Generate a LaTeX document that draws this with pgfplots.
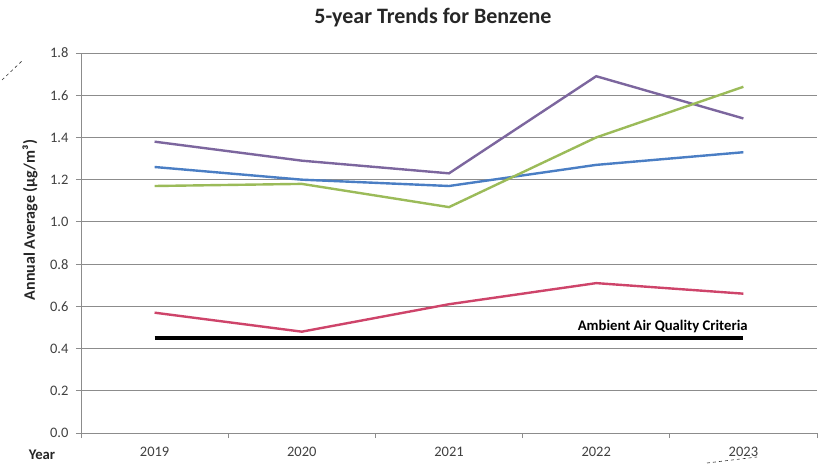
\documentclass[border=0pt]{standalone}
\usepackage{fontspec}
\setmainfont{Carlito}
\usepackage{pgfplots}
\pgfplotsset{compat=1.18}
\definecolor{cpurple}{RGB}{124,102,158}
\definecolor{cblue}{RGB}{74,126,196}
\definecolor{cgreen}{RGB}{155,187,89}
\definecolor{cred}{RGB}{206,68,106}
\definecolor{gridgray}{RGB}{140,140,140}
\definecolor{txtgray}{RGB}{64,64,64}
\begin{document}
\begin{tikzpicture}[x=1pt,y=1pt]
\begin{axis}[
  at={(0,0)}, anchor=south west,
  scale only axis, width=736pt, height=380pt,
  xmin=-0.5, xmax=4.5, ymin=0, ymax=1.8,
  axis x line*=bottom, axis y line*=left,
  axis line style={draw=gridgray, line width=0.9pt},
  xtick={0,1,2,3,4},
  xticklabels={2019,2020,2021,2022,2023},
  major x tick style={draw=none},
  minor xtick={-0.5,0.5,1.5,2.5,3.5,4.5},
  ytick={0,0.2,0.4,0.6,0.8,1.0,1.2,1.4,1.6,1.8},
  yticklabel style={/pgf/number format/fixed,/pgf/number format/fixed zerofill,/pgf/number format/precision=1},
  /pgf/number format/assume math mode=true,
  ymajorgrids,
  grid style={draw=gridgray, line width=0.9pt},
  tick align=outside,
  major tick length=5pt, minor tick length=5pt,
  tick style={draw=gridgray, line width=0.9pt},
  ticklabel style={font=\fontsize{14.5}{16}\selectfont, text=txtgray},
  xticklabel style={yshift=-6pt},
  yticklabel style={xshift=-4pt},
  clip=false,
]
\addplot[cpurple, line width=2.4pt] coordinates {(0,1.38) (1,1.29) (2,1.23) (3,1.69) (4,1.49)};
\addplot[cblue, line width=2.4pt] coordinates {(0,1.26) (1,1.20) (2,1.17) (3,1.27) (4,1.33)};
\addplot[cgreen, line width=2.4pt] coordinates {(0,1.17) (1,1.18) (2,1.07) (3,1.40) (4,1.64)};
\addplot[cred, line width=2.4pt] coordinates {(0,0.57) (1,0.48) (2,0.61) (3,0.71) (4,0.66)};
\addplot[black, line width=3.2pt] coordinates {(0,0.45) (4,0.45)};
\node[anchor=east, font=\bfseries\fontsize{14.7}{16}\selectfont, inner sep=0pt] at (axis cs:4.03,0.45) [yshift=12pt] {Ambient Air Quality Criteria};
\end{axis}
\node[font=\bfseries\fontsize{22}{25}\selectfont, text=black!85] at (352,415) {5-year Trends for Benzene};
\node[font=\bfseries\fontsize{16}{18}\selectfont, rotate=90, text=black!85] at (-51,213) {Annual Average (µg/m³)};
\node[font=\bfseries\fontsize{14.7}{16}\selectfont, text=black!85] at (-39,-22) {Year};
\draw[dashed, line width=0.6pt, black!80] (-79,353) -- (-58,373);
\draw[dashed, line width=0.6pt, black!80] (626,-30) -- (676,-24);
\pgfresetboundingbox
\useasboundingbox (-81,-31) rectangle (741,433);
\end{tikzpicture}
\end{document}
